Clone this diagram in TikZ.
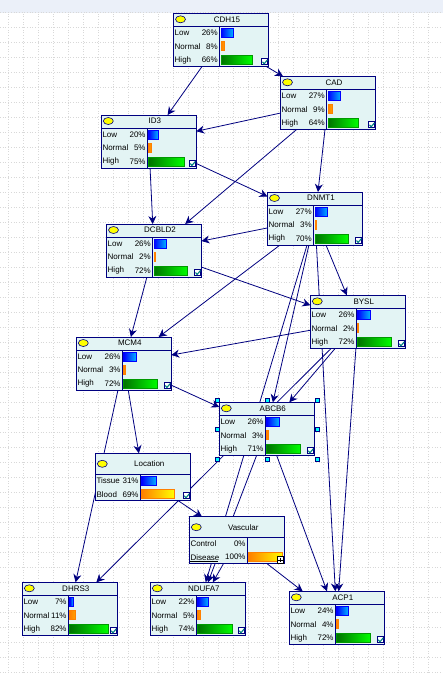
\documentclass[tikz,border=0pt]{standalone}
\usepackage{fontspec}
\setmainfont{Liberation Sans}
\usetikzlibrary{arrows.meta, backgrounds}
\definecolor{bnnavy}{HTML}{000080}
\definecolor{bnfill}{HTML}{E3F4F4}
\definecolor{bnband}{HTML}{EBF0F9}
\definecolor{bngrid}{HTML}{D8D8D8}
\definecolor{bncyan}{HTML}{00FFFF}
\definecolor{bnsky}{HTML}{00B4FF}
\definecolor{bnyellow}{HTML}{FFFF00}
\definecolor{bnorange}{HTML}{FF8000}
\definecolor{bngold}{HTML}{FFA000}
\tikzset{
    bnbox/.style={rectangle, draw=bnnavy, fill=bnfill, line width=1pt, inner sep=0pt, outer sep=0pt, minimum width=95pt},
    bnrule/.style={draw=bnnavy, line width=1pt},
    bntitle/.style={inner sep=0pt, font=\fontsize{8}{9}\selectfont},
    statelabel/.style={anchor=west, inner sep=0pt, font=\fontsize{8}{9}\selectfont},
    statevalue/.style={anchor=east, inner sep=0pt, font=\fontsize{8}{9}\selectfont},
    lowbar/.style={draw=blue, line width=.8pt, left color=blue, right color=bnsky},
    normalbar/.style={draw=bnorange, line width=.8pt, left color=bnorange, right color=bngold},
    highbar/.style={draw=green!60!black, line width=.8pt, left color=green!45!black, right color=green},
    blondbar/.style={draw=bnorange, line width=.8pt, left color=bnorange, right color=bnyellow},
    nobar/.style={},
    bulb/.style={draw=bnnavy, fill=bnyellow, line width=.6pt},
    handle/.style={draw=bnnavy, fill=bncyan, line width=.3pt},
    griddot/.style={draw=bngrid, line width=.7pt, dotted},
    line/.style={-{Stealth[length=8pt, width=8pt]}, draw=bnnavy, line width=.8pt}
}
\def\barscale{0.47}
% one state row of a node: name, divider x, row y, label, percent, bar style
\newcommand{\bnstate}[6]{
    \node[statelabel] (#1-#4) at (1,#3) {#4};
    \node[statevalue] (#1-#4-value) at ({#2-1.5},#3) {#5\%};
    \path[#6] ({#2+1.5},{#3-4.5}) rectangle ({#2+1.5+\barscale*#5},{#3+4.5});
}
\newcommand{\bncheck}[2]{
    \draw[bnnavy, fill=white, line width=1pt] (#1,#2) rectangle ++(6,6);
    \draw[teal, line width=1.1pt] ({#1+1},{#2+3}) -- ({#1+2.6},{#2+5}) -- ({#1+6},{#2+1});
}
% three-state node: name, x, y, title, low, normal, high
\newcommand{\bnnode}[7]{
    \begin{scope}[shift={(#2,#3)}]
        \node[bnbox, minimum height=53pt] (#1) at (47.5,26.5) {};
        \draw[bnrule] (0,13) -- (95,13);
        \draw[bnrule] (46,13) -- (46,53);
        \draw[bulb] (7,6) ellipse (5 and 3.5);
        \node[bntitle] (#1-title) at (53.5,6) {#4};
        \bnstate{#1}{46}{19.7}{Low}{#5}{lowbar}
        \bnstate{#1}{46}{33}{Normal}{#6}{normalbar}
        \bnstate{#1}{46}{46.7}{High}{#7}{highbar}
        \bncheck{88}{45.5}
    \end{scope}
}
\begin{document}
\begin{tikzpicture}[x=1pt, y=-1pt]
    \useasboundingbox (0,0) rectangle (443,673);

    \bnnode{cdh}{173.5}{13.3}{CDH15}{26}{8}{66}
    \bnnode{cad}{280.5}{76.3}{CAD}{27}{9}{64}
    \bnnode{id}{101.3}{115}{ID3}{20}{5}{75}
    \bnnode{dnmt}{267.5}{192}{DNMT1}{27}{3}{70}
    \bnnode{dcbld}{106.5}{224}{DCBLD2}{26}{2}{72}
    \bnnode{bysl}{310.3}{295.3}{BYSL}{26}{2}{72}
    \bnnode{mcm}{76.3}{337}{MCM4}{26}{3}{72}
    \bnnode{abcb}{219.3}{402.3}{ABCB6}{26}{3}{71}
    \bnnode{dhrs}{22.3}{582.3}{DHRS3}{7}{11}{82}
    \bnnode{ndufa}{150.3}{582.3}{NDUFA7}{22}{5}{74}
    \bnnode{acp}{289.3}{591.3}{ACP1}{24}{4}{72}

    % two-state nodes
    \begin{scope}[shift={(95.3,453.3)}]
        \node[bnbox, minimum height=47pt] (location) at (47.5,23.5) {};
        \draw[bnrule] (0,21) -- (95,21);
        \draw[bnrule] (45,21) -- (45,47);
        \draw[bulb] (7,10.5) ellipse (5 and 3.5);
        \node[bntitle] (location-title) at (54,10.5) {Location};
        \bnstate{location}{45}{27.5}{Tissue}{31}{lowbar}
        \bnstate{location}{45}{41}{Blood}{69}{blondbar}
        \bncheck{88}{39.5}
    \end{scope}
    \begin{scope}[shift={(189.3,516.7)}]
        \def\barscale{0.34}
        \node[bnbox, minimum height=47pt] (vascular) at (47.5,23.5) {};
        \draw[bnrule] (0,21) -- (95,21);
        \draw[bnrule] (58,21) -- (58,47);
        \draw[bulb] (7,10.5) ellipse (5 and 3.5);
        \node[bntitle] (vascular-title) at (54,10.5) {Vascular};
        \bnstate{vascular}{58}{27}{Control}{0}{nobar}
        \bnstate{vascular}{58}{40.5}{Disease}{100}{blondbar}
        \draw[black, line width=.8pt] (1,44.5) -- (29,44.5);
        \draw[black, fill=white, line width=.8pt] (88,40) rectangle ++(6.5,6.5);
        \draw[black, line width=.8pt] (88,43.2) -- (94.5,43.2) (91.2,41) -- (91.2,45.5);
    \end{scope}

    \foreach \hx/\hy in {217.3/400, 267.3/400, 317.3/400, 217.3/429.3, 317.3/429.3, 217.3/459, 267.3/459, 317.3/459}
        \draw[handle] ({\hx-2.3},{\hy-2.3}) rectangle ++(4.6,4.6);

    \begin{pgfonlayer}{background}
        \fill[white] (0,0) rectangle (443,673);
        \fill[bnband] (0,0) rectangle (443,13);
        \begin{scope}[shift={(8.3,12.3)}]
            \draw[griddot, step=15pt] (-8.3,0) grid (434.7,660.7);
        \end{scope}

        \draw[line] (cdh) -- (id);
        \draw[line] (cdh) -- (cad);
        \draw[line] (cad) -- (id);
        \draw[line] (cad) -- (dcbld);
        \draw[line] (cad) -- (dnmt);
        \draw[line] (id) -- (dcbld);
        \draw[line] (id) -- (dnmt);
        \draw[line] (dnmt) -- (dcbld);
        \draw[line] (dnmt) -- (bysl);
        \draw[line] (dnmt) -- (mcm);
        \draw[line] (dnmt) -- (abcb);
        \draw[line] (dnmt) -- (ndufa);
        \draw[line] (dnmt) -- (acp);
        \draw[line] (dcbld) -- (bysl);
        \draw[line] (dcbld) -- (mcm);
        \draw[line] (bysl) -- (mcm);
        \draw[line] (bysl) -- (abcb);
        \draw[line] (bysl) -- (dhrs);
        \draw[line] (bysl) -- (acp);
        \draw[line] (mcm) -- (abcb);
        \draw[line] (mcm) -- (location);
        \draw[line] (mcm) -- (dhrs);
        \draw[line] (abcb) -- (ndufa);
        \draw[line] (abcb) -- (acp);
        \draw[line] (location) -- (vascular);
        \draw[line] (vascular) -- (ndufa);
        \draw[line] (vascular) -- (acp);
    \end{pgfonlayer}
\end{tikzpicture}
\end{document}
